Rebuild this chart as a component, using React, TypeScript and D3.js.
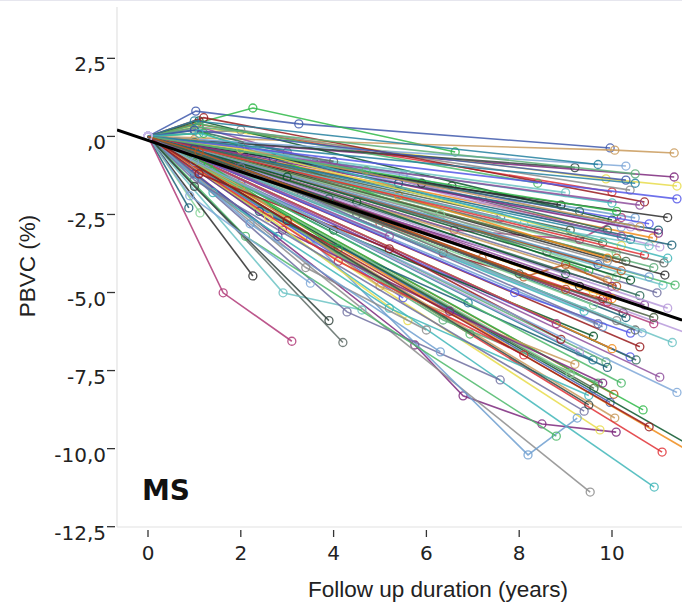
import React from "react";
import * as d3 from "d3";

// Follow-up times (years) per subject, each starting at baseline 0
const followUpYears: number[][] = [
  [0, 1.03, 3.25, 9.96], [0, 2.26, 6.62], [0, 10.06, 11.34], [0, 11.34], [0, 1.0, 9.87, 11.4],
  [0, 1.05, 10.0], [0, 10.0], [0, 2.0, 10.39], [0, 10.5], [0, 1.1, 10.0],
  [0, 10.88], [0, 3.0, 11.03], [0, 11.29], [0, 10.09], [0, 6.6, 9.3, 10.2],
  [0, 11.12], [0, 1.0, 11.14], [0, 11.1], [0, 10.97], [0, 11.36],
  [0, 10.24], [0, 10.65], [0, 10.6], [0, 2.0, 10.39], [0, 9.59],
  [0, 9.87], [0, 10.52], [0, 11.03], [0, 9.61], [0, 10.04],
  [0, 9.96], [0, 10.67], [0, 10.06], [0, 5.75, 6.79, 8.49, 10.09], [0, 9.74],
  [0, 11.08], [0, 10.91], [0, 9.53], [0, 3.5, 8.19, 9.25], [0, 11.8],
  [0, 11.8], [0, 11.8], [0, 0.88], [0, 1.12], [0, 1.62, 3.1],
  [0, 4.2], [0, 2.26], [0, 2.91, 4.61], [0, 4.29, 7.59], [0, 6.94],
  [0, 6.55], [0, 5.5, 10.2], [0, 6.36, 9.8], [0, 5.5], [0, 6.9],
  [0, 6.36, 9.7], [0, 1.0, 9.9], [0, 1.1, 3.0, 10.2], [0, 9.8], [0, 2.1, 10.1],
  [0, 9.7], [0, 1.2, 9.5], [0, 9.9], [0, 3.3, 10.0], [0, 9.6],
  [0, 5.0, 9.9], [0, 9.4], [0, 1.0, 10.1], [0, 9.8], [0, 4.0, 9.6],
  [0, 10.0], [0, 9.3], [0, 2.4, 9.9], [0, 9.1], [0, 8.8],
  [0, 8.6], [0, 8.9], [0, 9.0], [0, 7.6], [0, 1.1, 8.4],
  [0, 9.2], [0, 10.3], [0, 1.2, 10.7], [0, 10.8], [0, 10.4],
  [0, 10.9], [0, 10.6], [0, 10.7], [0, 10.3], [0, 7.2, 8.1, 9.0, 10.1],
  [0, 1.0, 2.8], [0, 1.3, 4.1], [0, 2.0, 5.0, 9.2], [0, 2.9, 6.5, 9.8], [0, 2.6, 5.6],
  [0, 4.1, 8.1], [0, 1.4, 5.2, 9.5], [0, 3.4, 6.0], [0, 2.2, 6.3], [0, 4.5, 9.0],
  [0, 5.4, 9.9], [0, 3.6, 7.2, 10.4], [0, 2.7, 5.4, 11.0], [0, 6.3, 10.1], [0, 1.0, 1.8, 9.9],
  [0, 2.0, 4.0], [0, 5.9, 11.2], [0, 8.1, 10.8], [0, 1.0, 9.4], [0, 2.1, 8.8],
  [0, 1.0, 3.9], [0, 0.9, 3.5], [0, 1.1, 5.2, 8.9], [0, 7.9, 10.4], [0, 1.0, 9.7],
  [0, 1.1, 10.5], [0, 1.0, 9.3], [0, 2.1, 10.6], [0, 9.1], [0, 10.2],
  [0, 1.0, 10.3], [0, 10.1], [0, 1.0, 10.6], [0, 11.0], [0, 2.0, 10.2],
  [0, 10.7], [0, 1.1, 11.2], [0, 9.9], [0, 10.8], [0, 3.0, 10.4],
  [0, 10.0], [0, 11.2], [0, 1.0, 10.3], [0, 9.6], [0, 10.9],
  [0, 4.5, 10.5], [0, 9.3], [0, 11.3], [0, 2.0, 9.7], [0, 10.2],
  [0, 9.5], [0, 1.0, 11.4], [0, 3.0, 10.8], [0, 11.4], [0, 10.5],
  [0, 4.7], [0, 3.9], [0, 5.2], [0, 8.0, 10.9], [0, 1.1, 9.0],
];

// Percentage brain volume change (PBVC, %) per subject, matching followUpYears
const pbvcValues: number[][] = [
  [0, 0.81, 0.4, -0.37], [0, 0.91, -0.5], [0, -0.44, -0.53], [0, -1.3], [0, 0.3, -1.36, -1.59],
  [0, 0.4, -1.78], [0, -2.13], [0, 0.2, -1.72], [0, -2.61], [0, 0.5, -2.68],
  [0, -3.25], [0, -0.6, -3.54], [0, -3.48], [0, -3.73], [0, -3.0, -3.3, -2.6],
  [0, -4.05], [0, -0.3, -4.44], [0, -4.76], [0, -5.01], [0, -4.76],
  [0, -5.65], [0, -6.29], [0, -6.74], [0, -1.5, -7.06], [0, -7.16],
  [0, -7.22], [0, -7.16], [0, -7.71], [0, -8.07], [0, -8.26],
  [0, -8.52], [0, -8.76], [0, -9.02], [0, -6.68, -8.31, -9.21, -9.47], [0, -9.4],
  [0, -10.11], [0, -11.23], [0, -11.39], [0, -3.3, -10.2, -9.02], [0, -10.0],
  [0, -10.2], [0, -6.4], [0, -2.29], [0, -2.45], [0, -5.01, -6.56],
  [0, -6.6], [0, -4.47], [0, -5.01, -5.56], [0, -5.62, -7.8], [0, -6.33],
  [0, -1.59], [0, -1.24, -2.9], [0, -3.73, -5.2], [0, -5.17], [0, -5.33],
  [0, -5.88, -7.9], [0, 0.2, -3.0], [0, 0.3, -0.5, -3.2], [0, -3.4], [0, -0.8, -3.9],
  [0, -4.1], [0, 0.1, -4.3], [0, -4.6], [0, -1.8, -4.8], [0, -5.0],
  [0, -2.8, -5.3], [0, -5.6], [0, -0.6, -5.9], [0, -6.1], [0, -3.0, -6.4],
  [0, -6.8], [0, -6.9], [0, -2.4, -7.4], [0, -7.6], [0, -6.0],
  [0, -3.7], [0, -2.2], [0, -1.8], [0, -2.6], [0, 0.4, -1.5],
  [0, -1.0], [0, -0.95], [0, 0.6, -2.1], [0, -2.8], [0, -3.3],
  [0, -4.2], [0, -5.1], [0, -5.4], [0, -4.0], [0, -3.9, -4.5, -4.1, -4.8],
  [0, -1.2, -3.2], [0, -0.9, -3.6], [0, -1.6, -4.8, -7.3], [0, -3.0, -5.6, -7.9], [0, -2.6, -5.9],
  [0, -4.0, -7.0], [0, -1.8, -5.5, -8.3], [0, -4.2, -6.2], [0, -2.8, -6.9], [0, -2.1, -4.4],
  [0, -1.9, -3.9], [0, -0.8, -2.0, -2.9], [0, -0.7, -1.5, -3.0], [0, -2.5, -4.5], [0, -0.3, -0.9, -5.1],
  [0, -0.3, -0.8], [0, -1.5, -2.6], [0, -2.8, -3.5], [0, -1.4, -8.8], [0, -3.2, -9.6],
  [0, -1.6, -5.9], [0, -1.9, -4.7], [0, -1.2, -3.6, -6.5], [0, -5.0, -6.3], [0, 0.5, -0.9],
  [0, 0.3, -1.2], [0, -0.2, -2.4], [0, -0.5, -2.2], [0, -3.0], [0, -4.3],
  [0, 0.2, -1.4], [0, -2.4], [0, -0.1, -2.9], [0, -3.1], [0, -0.4, -3.5],
  [0, -3.8], [0, 0.1, -3.9], [0, -4.0], [0, -4.5], [0, -1.3, -4.6],
  [0, -5.2], [0, -5.5], [0, -0.4, -5.8], [0, -5.4], [0, -6.0],
  [0, -2.5, -6.2], [0, -4.8], [0, -6.6], [0, -1.0, -6.0], [0, -7.9],
  [0, -8.6], [0, -0.8, -8.2], [0, -2.7, -9.3], [0, -2.0], [0, -1.5],
  [0, -1.1], [0, -2.0], [0, -3.2], [0, -4.4, -5.8], [0, -0.5, -4.9],
];

const yTickValues = [2.5, 0, -2.5, -5, -7.5, -10, -12.5];
const yTickLabels = ["2,5", ",0", "-2,5", "-5,0", "-7,5", "-10,0", "-12,5"];
const xTickValues = [0, 2, 4, 6, 8, 10];
const xTickLabels = ["0", "2", "4", "6", "8", "10"];

// Overall fitted trend
const fitIntercept = -0.13;
const fitSlope = -0.5;

const palette = [
  "#3E58AC", "#2EB848", "#C99A5A", "#7C287D", "#E8DC4A", "#E03035", "#3FB6B9", "#8C8C8C",
  "#6F9FD0", "#0A562C", "#F08C1A", "#B79ADB", "#1A5F76", "#86D496", "#B03A78", "#5E6B66",
  "#2B2B2B", "#6CC3C4", "#6E6FA0", "#4CB86A", "#34443E", "#7FA8D8", "#981A1C", "#5558E8",
  "#23809F", "#5DAE78", "#2F6B5A", "#8E4F9C", "#4B6043", "#B9561B",
];

export default function App() {
  const W = 682;
  const H = 606;
  const x = d3.scaleLinear().domain([0, 10]).range([148, 612]);
  const y = d3.scaleLinear().domain([0, -12.5]).range([136.4, 526.7]);
  const left = 117;
  const right = 682;
  const top = 7;
  const bottom = 527;

  const line = d3
    .line<[number, number]>()
    .x((d) => x(d[0]))
    .y((d) => y(d[1]));

  const tMin = x.invert(left);
  const tMax = x.invert(right);
  const fitPts: [number, number][] = [
    [tMin, fitIntercept + fitSlope * tMin],
    [tMax, fitIntercept + fitSlope * tMax],
  ];

  const tickFont = "'DejaVu Sans', 'Liberation Sans', Arial, sans-serif";
  const titleFont = "'Liberation Sans', Arial, sans-serif";

  return (
    <svg
      width={W}
      height={H}
      style={{ position: "absolute", left: 0, top: 0, background: "#fff" }}
    >
      <defs>
        <clipPath id="plotClip">
          <rect x={left} y={0} width={right - left} height={bottom} />
        </clipPath>
      </defs>
      <line x1={0} x2={W} y1={0.5} y2={0.5} stroke="#e6e6ee" strokeWidth={1} />
      {/* axes */}
      <line x1={left} x2={left} y1={top} y2={bottom} stroke="#e2e2e2" strokeWidth={1.2} />
      <line x1={left} x2={right} y1={bottom} y2={bottom} stroke="#e2e2e2" strokeWidth={1.2} />
      {yTickValues.map((v, i) => (
        <g key={"yt" + i}>
          <line x1={107} x2={115} y1={y(v)} y2={y(v)} stroke="#333" strokeWidth={1.3} />
          <text
            x={106}
            y={y(v) + 13}
            textAnchor="end"
            fontFamily={tickFont}
            fontSize={20}
            fill="#222"
          >
            {yTickLabels[i]}
          </text>
        </g>
      ))}
      {xTickValues.map((t, i) => (
        <g key={"xt" + i}>
          <line x1={x(t)} x2={x(t)} y1={530} y2={537} stroke="#333" strokeWidth={1.3} />
          <text
            x={x(t)}
            y={560}
            textAnchor="middle"
            fontFamily={tickFont}
            fontSize={20}
            fill="#222"
          >
            {xTickLabels[i]}
          </text>
        </g>
      ))}
      <text
        x={438}
        y={597}
        textAnchor="middle"
        fontFamily={titleFont}
        fontSize={22.5}
        fill="#222"
      >
        Follow up duration (years)
      </text>
      <text
        transform={`translate(35,266) rotate(-90)`}
        textAnchor="middle"
        fontFamily={titleFont}
        fontSize={22.5}
        fill="#222"
      >
        PBVC (%)
      </text>
      <g clipPath="url(#plotClip)">
        {followUpYears.map((ts, i) => {
          const pts: [number, number][] = ts.map((t, j) => [t, pbvcValues[i][j]]);
          const c = palette[i % palette.length];
          return (
            <g key={"s" + i}>
              <path d={line(pts) || ""} fill="none" stroke={c} strokeWidth={1.6} strokeOpacity={0.85} />
              {pts.map((p, j) => (
                <circle
                  key={j}
                  cx={x(p[0])}
                  cy={y(p[1])}
                  r={4}
                  fill="none"
                  stroke={j === 0 ? "#c8b8e8" : c}
                  strokeWidth={1.3}
                  strokeOpacity={0.85}
                />
              ))}
            </g>
          );
        })}
        <path d={line(fitPts) || ""} fill="none" stroke="#000" strokeWidth={3} />
      </g>
      <text
        x={142}
        y={500}
        fontFamily="'DejaVu Sans', Verdana, sans-serif"
        fontWeight="bold"
        fontSize={28}
        fill="#111"
      >
        MS
      </text>
    </svg>
  );
}
